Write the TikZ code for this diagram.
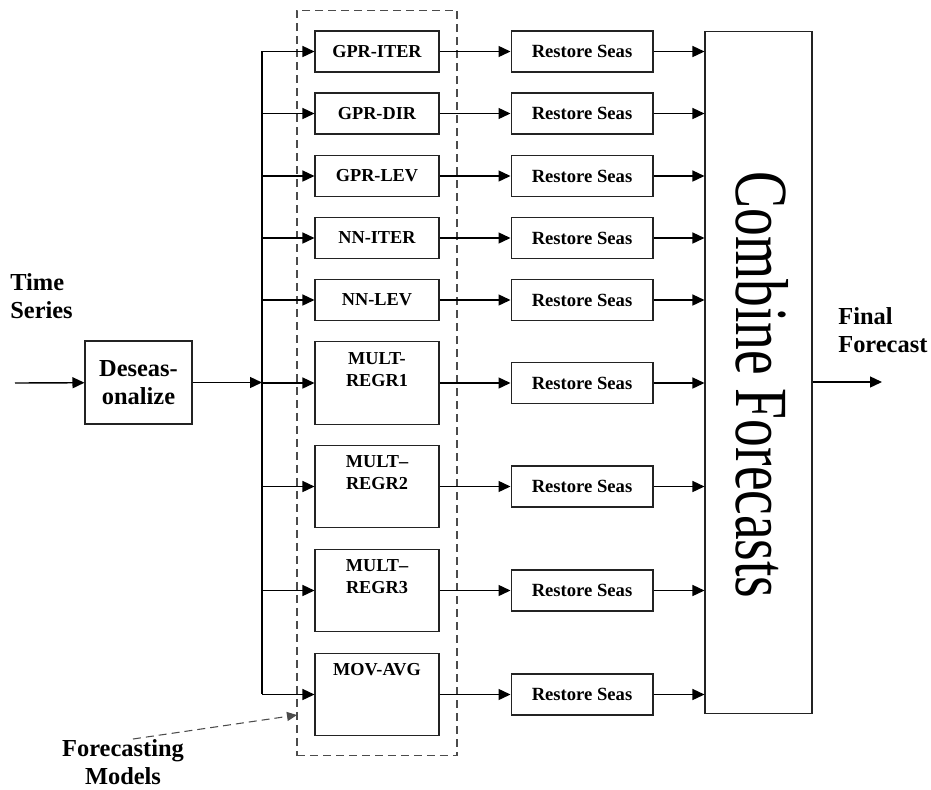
\documentclass[tikz,border=0pt]{standalone}
\usepackage{fontspec}
\setmainfont{Liberation Serif}
\usepackage{tikz}
\usetikzlibrary{arrows.meta,positioning}
\definecolor{linegray}{RGB}{35,35,35}
\definecolor{dashgray}{RGB}{75,75,75}
\tikzset{
  mbox/.style={rectangle,draw=linegray,fill=white,line width=0.6pt,inner sep=0pt,
               minimum width=24.8mm,minimum height=8.2mm,align=center,
               font=\fontsize{10.4}{12.5}\selectfont\bfseries},
  tbox/.style={mbox,minimum height=16.5mm},
  ttop/.style={anchor=north,align=center,inner sep=0pt,yshift=-2.1mm,
               font=\fontsize{10.4}{12.5}\selectfont\bfseries},
  rbox/.style={mbox,minimum width=28.4mm,font=\fontsize{10.6}{12}\selectfont\bfseries},
  lbl/.style={inner sep=0pt,font=\fontsize{13.9}{16}\selectfont\bfseries},
  fl/.style={-{Triangle[length=2.4mm,width=2.2mm]},line width=0.8pt},
  grpline/.style={draw=dashgray,dash pattern=on 1.6mm off 1mm,line width=0.6pt},
}
\begin{document}
\begin{tikzpicture}[x=0.02cm,y=-0.02cm]
  \useasboundingbox (0,0) rectangle (931,789);
  % group of models
  \node[grpline,minimum width=32mm,minimum height=149.2mm,inner sep=0pt] (grp) at (377,383) {};
  \node[lbl,align=left,anchor=west] (ts) at (10,296) {Time\\Series};
  \node[mbox,minimum width=21.4mm,minimum height=16.6mm,font=\fontsize{13.9}{16}\selectfont\bfseries] (ds) at (138.5,382.5) {Deseas-\\onalize};
  \coordinate (in) at (15,383);
  \coordinate (bt) at (262,51);
  \coordinate (bb) at (262,694);
  % forecasting models
  \node[mbox] (m1) at (377,51.5) {GPR-ITER};
  \node[mbox] (m2) at (377,113.5) {GPR-DIR};
  \node[mbox] (m3) at (377,176) {GPR-LEV};
  \node[mbox] (m4) at (377,238) {NN-ITER};
  \node[mbox] (m5) at (377,300) {NN-LEV};
  \node[tbox,label={[ttop]north:{MULT-\\REGR1}}] (m6) at (377,383) {};
  \node[tbox,label={[ttop]north:{MULT--\\REGR2}}] (m7) at (377,486.5) {};
  \node[tbox,label={[ttop]north:{MULT--\\REGR3}}] (m8) at (377,590.5) {};
  \node[tbox,label={[ttop]north:{MOV-AVG}}] (m9) at (377,694.5) {};
  % restore seasonality
  \node[rbox,right=14.2mm of m1] (r1) {Restore Seas};
  \node[rbox,right=14.2mm of m2] (r2) {Restore Seas};
  \node[rbox,right=14.2mm of m3] (r3) {Restore Seas};
  \node[rbox,right=14.2mm of m4] (r4) {Restore Seas};
  \node[rbox,right=14.2mm of m5] (r5) {Restore Seas};
  \node[rbox,right=14.2mm of m6] (r6) {Restore Seas};
  \node[rbox,right=14.2mm of m7] (r7) {Restore Seas};
  \node[rbox,right=14.2mm of m8] (r8) {Restore Seas};
  \node[rbox,right=14.2mm of m9] (r9) {Restore Seas};
  % combination
  \node[draw=linegray,line width=0.6pt,inner sep=0pt,minimum width=21.4mm,minimum height=136.6mm] (cf) at (758.5,372.5) {};
  \node[rotate=-90,inner sep=0pt,font=\fontsize{42.7}{44}\selectfont] (cft) at (762,385) {\scalebox{0.74}[1]{Combine Forecasts}};
  \coordinate (out) at (882,382);
  \node[lbl,align=left,anchor=west] (ff) at (838,330) {Final\\Forecast};
  \node[lbl,align=center] (fm) at (123,762) {Forecasting\\Models};
  \coordinate (fmtip) at (297,715);
  % connections
  \draw[fl] (in) -- (ds);
  \draw[fl] (ds) -- (ds -| bt);
  \draw[line width=1.1pt] (bt) -- (bb);
  \draw (m1 -| bt) edge[fl] (m1) (m1) edge[fl] (r1) (r1) edge[fl] (r1 -| cf.west);
  \draw (m2 -| bt) edge[fl] (m2) (m2) edge[fl] (r2) (r2) edge[fl] (r2 -| cf.west);
  \draw (m3 -| bt) edge[fl] (m3) (m3) edge[fl] (r3) (r3) edge[fl] (r3 -| cf.west);
  \draw (m4 -| bt) edge[fl] (m4) (m4) edge[fl] (r4) (r4) edge[fl] (r4 -| cf.west);
  \draw (m5 -| bt) edge[fl] (m5) (m5) edge[fl] (r5) (r5) edge[fl] (r5 -| cf.west);
  \draw (m6 -| bt) edge[fl] (m6) (m6) edge[fl] (r6) (r6) edge[fl] (r6 -| cf.west);
  \draw (m7 -| bt) edge[fl] (m7) (m7) edge[fl] (r7) (r7) edge[fl] (r7 -| cf.west);
  \draw (m8 -| bt) edge[fl] (m8) (m8) edge[fl] (r8) (r8) edge[fl] (r8 -| cf.west);
  \draw (m9 -| bt) edge[fl] (m9) (m9) edge[fl] (r9) (r9) edge[fl] (r9 -| cf.west);
  \draw[fl] (cf.east |- out) -- (out);
  \draw[grpline,-{Triangle[length=2mm,width=1.8mm]}] ([xshift=2mm]fm.north) -- (fmtip);
\end{tikzpicture}
\end{document}
